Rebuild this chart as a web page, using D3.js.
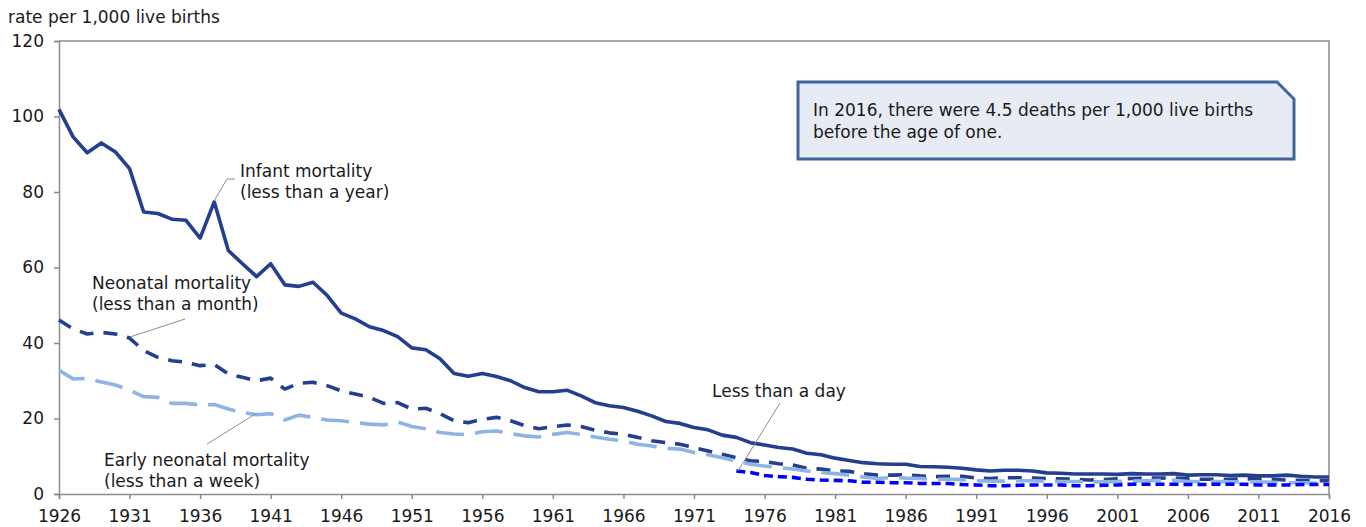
<!DOCTYPE html>
<html>
<head>
<meta charset="utf-8">
<script src="https://cdn.jsdelivr.net/npm/d3@7"></script>
<style>
  body { margin: 0; background: #fff; }
  svg { display: block; font-family: Verdana, "DejaVu Sans", sans-serif; }
</style>
</head>
<body>
<svg id="chart" width="1366" height="527"></svg>
<script>
const firstYear = 1926
const lastYear = 2016
const dayStartYear = 1974

// infant mortality (less than a year)
const infant = [
  101.9, 94.6, 90.4, 93.0, 90.6, 86.2, 74.7, 74.3, 72.8, 72.5,
  67.8, 77.4, 64.5, 61.0, 57.6, 61.0, 55.4, 55.0, 56.1, 52.6,
  47.9, 46.4, 44.3, 43.3, 41.7, 38.7, 38.2, 35.8, 31.9, 31.2,
  31.9, 31.1, 30.0, 28.2, 27.1, 27.1, 27.5, 26.0, 24.2, 23.4,
  22.9, 21.9, 20.7, 19.2, 18.7, 17.6, 17.0, 15.6, 15.0, 13.6,
  13.0, 12.3, 11.9, 10.8, 10.4, 9.5, 8.9, 8.3, 8.0, 7.9,
  7.9, 7.3, 7.2, 7.1, 6.8, 6.4, 6.1, 6.3, 6.3, 6.1,
  5.6, 5.5, 5.3, 5.3, 5.3, 5.2, 5.4, 5.3, 5.3, 5.4,
  5.0, 5.1, 5.1, 4.9, 5.0, 4.8, 4.8, 5.0, 4.7, 4.5,
  4.5
]

// neonatal mortality (less than a month)
const neonatal = [
  46.1, 43.7, 42.4, 42.8, 42.4, 41.3, 38.0, 36.2, 35.3, 34.9,
  34.0, 34.3, 31.8, 30.9, 30.0, 30.7, 27.8, 29.3, 29.6, 28.7,
  27.3, 26.5, 25.6, 24.0, 24.2, 22.5, 22.7, 21.3, 19.4, 18.9,
  19.8, 20.3, 19.4, 18.1, 17.3, 17.8, 18.3, 17.9, 16.9, 16.2,
  15.8, 15.0, 14.1, 13.6, 13.2, 12.3, 11.4, 10.5, 9.6, 8.8,
  8.6, 8.0, 7.7, 6.8, 6.6, 6.1, 6.0, 5.4, 5.0, 5.0,
  5.1, 4.8, 4.6, 4.7, 4.7, 4.2, 4.1, 4.3, 4.3, 4.2,
  4.1, 4.0, 3.9, 3.7, 3.8, 4.0, 4.1, 4.2, 4.2, 4.3,
  4.0, 3.9, 3.9, 3.9, 4.0, 4.0, 3.9, 3.7, 3.6, 3.5,
  3.5
]

// early neonatal mortality (less than a week)
const earlyNeonatal = [
  32.8, 30.5, 30.6, 29.7, 28.9, 27.5, 25.8, 25.6, 24.0, 24.0,
  23.6, 23.7, 22.5, 21.6, 21.0, 21.3, 19.6, 20.9, 20.3, 19.6,
  19.4, 18.9, 18.5, 18.3, 19.1, 17.9, 17.3, 16.3, 15.9, 15.7,
  16.5, 16.7, 16.0, 15.4, 15.1, 15.8, 16.3, 15.8, 15.1, 14.5,
  14.1, 13.2, 12.7, 12.1, 11.9, 11.0, 10.4, 9.6, 8.8, 7.9,
  7.4, 7.0, 6.6, 6.1, 5.7, 5.4, 5.0, 4.5, 4.1, 4.4,
  4.2, 4.1, 3.9, 3.9, 3.8, 3.5, 3.4, 3.4, 3.5, 3.5,
  3.4, 3.3, 3.3, 3.2, 3.2, 3.3, 3.4, 3.5, 3.6, 3.6,
  3.3, 3.3, 3.3, 3.2, 3.3, 3.2, 3.1, 3.0, 3.0, 2.9,
  2.8
]

// less than a day, from 1974
const lessThanDay = [
  6.1, 5.7, 4.9, 4.6, 4.4, 3.9, 3.7, 3.6, 3.5, 3.1,
  3.1, 3.0, 3.0, 2.8, 2.8, 2.8, 2.5, 2.4, 2.2, 2.2,
  2.3, 2.4, 2.4, 2.4, 2.2, 2.2, 2.3, 2.4, 2.6, 2.6,
  2.6, 2.6, 2.5, 2.5, 2.6, 2.6, 2.6, 2.4, 2.4, 2.4,
  2.5, 2.5, 2.5
]

const yTicks = [0, 20, 40, 60, 80, 100, 120]
const xTicks = d3.range(firstYear, lastYear + 1, 5)
const noteLines = ['In 2016, there were 4.5 deaths per 1,000 live births', 'before the age of one.']

const svg = d3.select('#chart')
const plotLeft = 59
const plotRight = 1329
const plotTop = 41
const plotBottom = 494

const x = d3.scaleLinear().domain([firstYear, lastYear]).range([plotLeft, plotRight])
const y = d3.scaleLinear().domain([0, 120]).range([plotBottom, plotTop])

const axisColor = '#8c8c8c'
const textColor = '#1a1a1a'
const fontSize = '17px'

// plot border (top and right)
svg.append('path')
  .attr('d', `M${plotLeft},${plotTop}H${plotRight}V${plotBottom}`)
  .style('fill', 'none')
  .style('stroke', axisColor)
  .style('stroke-width', 1.5)

const yAxis = svg.append('g')
  .attr('transform', `translate(${plotLeft},0)`)
  .call(d3.axisLeft(y).tickValues(yTicks).tickSize(5).tickPadding(10).tickFormat(d3.format('d')))
const xAxis = svg.append('g')
  .attr('transform', `translate(0,${plotBottom})`)
  .call(d3.axisBottom(x).tickValues(xTicks).tickSize(5).tickPadding(11).tickFormat(d3.format('d')))

;[yAxis, xAxis].forEach(ax => {
  ax.select('.domain').style('stroke', axisColor).style('stroke-width', 1.5)
  ax.selectAll('.tick line').style('stroke', axisColor).style('stroke-width', 1.5)
  ax.selectAll('.tick text')
    .style('font-family', 'Verdana, "DejaVu Sans", sans-serif')
    .style('font-size', fontSize)
    .style('fill', textColor)
})

svg.append('text')
  .attr('x', 8)
  .attr('y', 23)
  .style('font-size', fontSize)
  .style('fill', textColor)
  .text('rate per 1,000 live births')

const line = d3.line()
  .x(d => x(d[0]))
  .y(d => y(d[1]))

const series = [
  { values: infant, start: firstYear, color: '#243f8f', dash: null },
  { values: neonatal, start: firstYear, color: '#243f8f', dash: '14,10' },
  { values: earlyNeonatal, start: firstYear, color: '#8db4e3', dash: '28,11' },
  { values: lessThanDay, start: dayStartYear, color: '#0000ff', dash: '9,5' }
]

series.forEach(s => {
  const pts = s.values.map((v, i) => [s.start + i, v])
  svg.append('path')
    .datum(pts)
    .attr('d', line)
    .style('fill', 'none')
    .style('stroke', s.color)
    .style('stroke-width', 3.6)
    .style('stroke-linejoin', 'round')
    .style('stroke-dasharray', s.dash)
})

// leader lines and labels
const leaders = [
  [[214, 201], [227, 179], [235, 179]],
  [[130, 337], [185, 319]],
  [[207, 444], [257, 413]],
  [[738, 471], [780, 403]]
]
leaders.forEach(pts => {
  svg.append('path')
    .attr('d', d3.line()(pts))
    .style('fill', 'none')
    .style('stroke', '#8c8c8c')
    .style('stroke-width', 1)
})

const labels = [
  { x: 240, y: 177, lines: ['Infant mortality', '(less than a year)'] },
  { x: 92, y: 289, lines: ['Neonatal mortality', '(less than a month)'] },
  { x: 104, y: 466, lines: ['Early neonatal mortality', '(less than a week)'] },
  { x: 712, y: 397, lines: ['Less than a day'] }
]
labels.forEach(l => {
  const t = svg.append('text')
    .attr('x', l.x)
    .attr('y', l.y)
    .style('font-size', fontSize)
    .style('fill', textColor)
  l.lines.forEach((s, i) => {
    t.append('tspan').attr('x', l.x).attr('dy', i === 0 ? 0 : 21).text(s)
  })
})

// note box
const bx0 = 798, by0 = 82, bx1 = 1294, by1 = 159, cut = 17
svg.append('path')
  .attr('d', `M${bx0},${by0}H${bx1 - cut}L${bx1},${by0 + cut}V${by1}H${bx0}Z`)
  .style('fill', '#e6ebf4')
  .style('stroke', '#41659a')
  .style('stroke-width', 3)

const note = svg.append('text')
  .attr('x', 813)
  .attr('y', 116)
  .style('font-size', fontSize)
  .style('fill', textColor)
noteLines.forEach((s, i) => {
  note.append('tspan').attr('x', 813).attr('dy', i === 0 ? 0 : 22).text(s)
})
</script>
</body>
</html>
